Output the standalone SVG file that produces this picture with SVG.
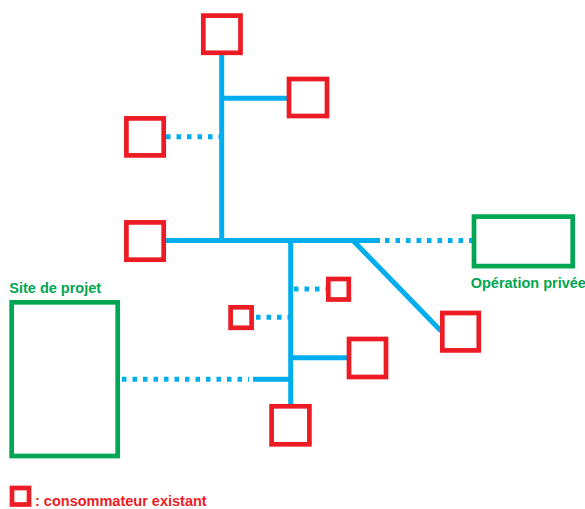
<svg xmlns="http://www.w3.org/2000/svg" width="585" height="509" viewBox="0 0 585 509">
  <style>
    .pipe { stroke: #00AEEF; stroke-width: 5; fill: none; }
    .dot { stroke: #00AEEF; stroke-width: 5; fill: none; stroke-dasharray: 4.5 6; }
    .conso { fill: #FFFFFF; stroke: #ED1C24; stroke-width: 4.7; }
    .site { fill: #FFFFFF; stroke: #00A651; stroke-width: 4.7; }
    .lbl-green { font-family: "Liberation Sans", Arial, sans-serif; font-weight: bold; font-size: 14.5px; fill: #00A651; }
    .lbl-red { font-family: "Liberation Sans", Arial, sans-serif; font-weight: bold; font-size: 14.5px; fill: #ED1C24; }
  </style>
  <rect width="585" height="509" fill="#FFFFFF"/>

  <!-- network: solid pipes and dotted planned links -->
  <g id="connectors">
    <line class="pipe" x1="221.7" y1="55" x2="221.7" y2="240.5"/>
    <line class="pipe" x1="221.7" y1="98.3" x2="289" y2="98.3"/>
    <line class="dot" x1="166" y1="136.7" x2="220" y2="136.7"/>
    <line class="pipe" x1="166" y1="240.5" x2="380" y2="240.5"/>
    <line class="dot" x1="385" y1="240.5" x2="472" y2="240.5"/>
    <line class="pipe" x1="290.7" y1="240.5" x2="290.7" y2="404"/>
    <line class="pipe" x1="353" y1="240.5" x2="441" y2="331"/>
    <line class="dot" x1="294" y1="289" x2="326" y2="289"/>
    <line class="dot" x1="256" y1="317.3" x2="289" y2="317.3"/>
    <line class="pipe" x1="290.7" y1="357.7" x2="347" y2="357.7"/>
    <line class="pipe" x1="253" y1="379.3" x2="290.7" y2="379.3"/>
    <line class="dot" x1="122" y1="379.3" x2="249" y2="379.3"/>
  </g>

  <!-- existing consumers -->
  <g id="conso-top"><rect class="conso" x="203.3" y="15.6" width="37.2" height="37.2"/></g>
  <g id="conso-upper-right"><rect class="conso" x="289" y="79" width="38" height="37"/></g>
  <g id="conso-upper-left"><rect class="conso" x="126.4" y="118.4" width="37.3" height="37"/></g>
  <g id="conso-main-left"><rect class="conso" x="126.4" y="222.4" width="37.3" height="37.3"/></g>
  <g id="conso-small-right"><rect class="conso" x="328.3" y="279" width="20.5" height="20.5"/></g>
  <g id="conso-small-left"><rect class="conso" x="230.6" y="307.3" width="21" height="20.5"/></g>
  <g id="conso-diagonal"><rect class="conso" x="442.3" y="313" width="36.5" height="37.4"/></g>
  <g id="conso-branch-right"><rect class="conso" x="349" y="339" width="37" height="38"/></g>
  <g id="conso-bottom"><rect class="conso" x="271.6" y="406.3" width="37.8" height="38"/></g>

  <!-- project site -->
  <g id="site-projet">
    <rect class="site" x="11.7" y="302.3" width="106" height="153.7"/>
    <text class="lbl-green" x="9.3" y="293.3">Site de projet</text>
  </g>

  <!-- private operation -->
  <g id="operation-privee">
    <rect class="site" x="474" y="216.6" width="98.7" height="49.5"/>
    <text class="lbl-green" x="470.7" y="287.5">Opération privée</text>
  </g>

  <!-- legend -->
  <g id="legende">
    <rect class="conso" x="12" y="488" width="17" height="16.5" stroke-width="4"/>
    <text class="lbl-red" x="35" y="506">: consommateur existant</text>
  </g>
</svg>
